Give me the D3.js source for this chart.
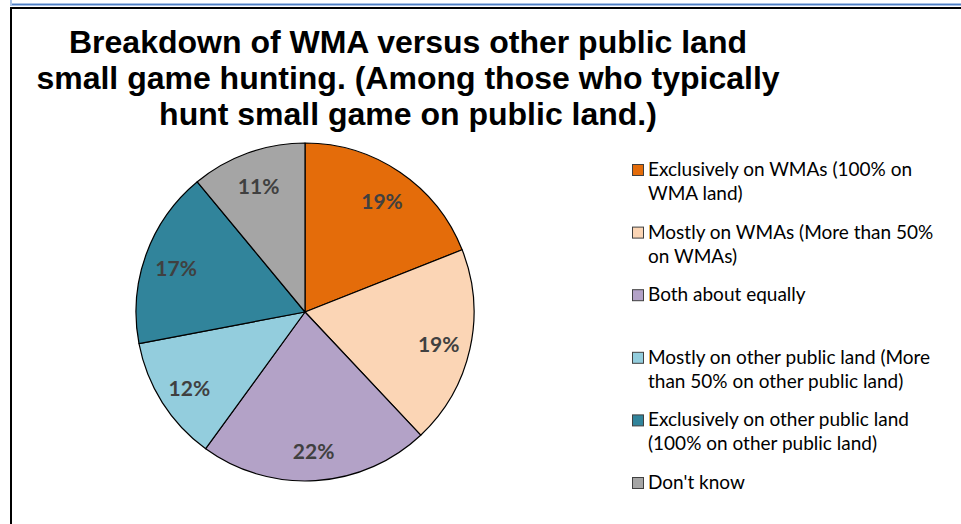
<!DOCTYPE html>
<html>
<head>
<meta charset="utf-8">
<script src="https://cdn.jsdelivr.net/npm/d3@7"></script>
<style>
  html, body { margin: 0; padding: 0; background: #fff; }
  svg { display: block; }
</style>
</head>
<body>
<svg id="chart" width="961" height="524"></svg>
<script>
// Share of respondents by where they hunt small game on public land
const categories = [
  "Exclusively on WMAs (100% on WMA land)",
  "Mostly on WMAs (More than 50% on WMAs)",
  "Both about equally",
  "Mostly on other public land (More than 50% on other public land)",
  "Exclusively on other public land (100% on other public land)",
  "Don't know"
];
const legendLines = [
  ["Exclusively on WMAs (100% on", "WMA land)"],
  ["Mostly on WMAs (More than 50%", "on WMAs)"],
  ["Both about equally"],
  ["Mostly on other public land (More", "than 50% on other public land)"],
  ["Exclusively on other public land", "(100% on other public land)"],
  ["Don't know"]
];
const values = [19, 19, 22, 12, 17, 11];
const colors = ["#E46C0A", "#FBD5B5", "#B3A2C7", "#93CDDD", "#31849B", "#A5A5A5"];
const titleLines = [
  "Breakdown of WMA versus other public land",
  "small game hunting. (Among those who typically",
  "hunt small game on public land.)"
];

const data = categories.map((c, i) => ({ category: c, value: values[i], color: colors[i], lines: legendLines[i] }));

const svg = d3.select("#chart");

// Frame: blue rule at the top, black border below and at the left
svg.append("rect").attr("x", 10).attr("y", 3).attr("width", 951).attr("height", 3).attr("fill", "#A9C2E6");
svg.append("rect").attr("x", 10).attr("y", 4).attr("width", 951).attr("height", 1).attr("fill", "#4F7FC4");
svg.append("rect").attr("x", 10).attr("y", 0).attr("width", 2).attr("height", 6).attr("fill", "#A9C2E6");
svg.append("rect").attr("x", 10).attr("y", 7).attr("width", 951).attr("height", 2).attr("fill", "#000");
svg.append("rect").attr("x", 10).attr("y", 7).attr("width", 2).attr("height", 517).attr("fill", "#000");

// Title
const title = svg.append("text")
  .attr("x", 408)
  .attr("text-anchor", "middle")
  .attr("font-family", "'Liberation Sans', Arial, sans-serif")
  .attr("font-weight", "bold")
  .attr("font-size", 32)
  .attr("fill", "#000");
titleLines.forEach((t, i) => {
  title.append("tspan").attr("x", 408).attr("y", 53 + i * 36).text(t);
});

// Pie
const cx = 305, cy = 312, radius = 169, labelRadius = 137;
const pie = d3.pie().value(d => d.value).sort(null);
const arc = d3.arc().innerRadius(0).outerRadius(radius);
const labelArc = d3.arc().innerRadius(labelRadius).outerRadius(labelRadius);
const arcs = pie(data);

const g = svg.append("g").attr("transform", `translate(${cx},${cy})`);
g.selectAll("path.slice")
  .data(arcs)
  .join("path")
  .attr("class", "slice")
  .attr("d", arc)
  .attr("fill", d => d.data.color)
  .attr("stroke", "#000")
  .attr("stroke-width", 1.2)
  .attr("stroke-linejoin", "round");

g.selectAll("text.pct")
  .data(arcs)
  .join("text")
  .attr("class", "pct")
  .attr("transform", d => `translate(${labelArc.centroid(d)})`)
  .attr("text-anchor", "middle")
  .attr("dy", "0.5em")
  .attr("font-family", "Lato, 'Open Sans', sans-serif")
  .attr("font-weight", "bold")
  .attr("font-size", 21)
  .attr("fill", "#404040")
  .text(d => d.data.value + "%");

// Legend
const legendY = d3.scalePoint().domain(categories).range([176, 489]);
const legend = svg.append("g");
const items = legend.selectAll("g.item")
  .data(data)
  .join("g")
  .attr("class", "item")
  .attr("transform", d => `translate(0,${legendY(d.category)})`);

items.append("rect")
  .attr("x", 632.5).attr("y", -11.5)
  .attr("width", 11).attr("height", 11)
  .attr("fill", d => d.color)
  .attr("stroke", "#404040")
  .attr("stroke-width", 1);

items.append("text")
  .attr("font-family", "Lato, 'Open Sans', sans-serif")
  .attr("font-size", 19)
  .attr("fill", "#000")
  .selectAll("tspan")
  .data(d => d.lines)
  .join("tspan")
  .attr("x", 648)
  .attr("y", (d, i) => i * 24)
  .text(d => d);
</script>
</body>
</html>
